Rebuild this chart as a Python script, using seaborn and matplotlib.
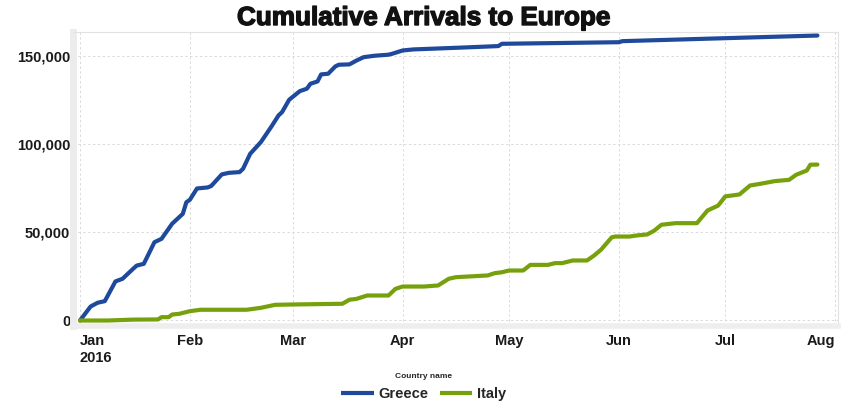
import matplotlib
matplotlib.use("Agg")
import matplotlib.pyplot as plt
import matplotlib.patheffects as pe
import matplotlib.ticker as mticker
import pandas as pd
import seaborn as sns

# Cumulative sea arrivals, 2016
greece_dates = [
    "2016-01-01", "2016-01-04", "2016-01-06", "2016-01-08", "2016-01-11",
    "2016-01-13", "2016-01-16", "2016-01-17", "2016-01-19", "2016-01-22",
    "2016-01-24", "2016-01-27", "2016-01-30", "2016-01-31", "2016-02-01",
    "2016-02-03", "2016-02-06", "2016-02-07", "2016-02-10", "2016-02-12",
    "2016-02-15", "2016-02-16", "2016-02-18", "2016-02-21", "2016-02-24",
    "2016-02-26", "2016-02-27", "2016-02-29", "2016-03-03", "2016-03-05",
    "2016-03-06", "2016-03-08", "2016-03-09", "2016-03-11", "2016-03-13",
    "2016-03-14", "2016-03-17", "2016-03-19", "2016-03-21", "2016-03-24",
    "2016-03-28", "2016-03-29", "2016-04-01", "2016-04-04", "2016-04-17",
    "2016-04-28", "2016-04-29", "2016-06-01", "2016-06-02", "2016-07-27",
]
greece_arrivals = [
    0, 7950, 10100, 11000, 22200,
    23700, 29400, 31200, 32200, 44500,
    46400, 55000, 60600, 67200, 68600,
    75000, 75600, 76400, 83000, 83900,
    84300, 86200, 94700, 101300, 110200,
    116500, 118400, 125400, 130300, 131700,
    134500, 135800, 139800, 140200, 144300,
    145300, 145500, 147700, 149600, 150400,
    151000, 151500, 153400, 154000, 155000,
    155900, 157200, 158100, 158700, 161900,
]

italy_dates = [
    "2016-01-01", "2016-01-09", "2016-01-16", "2016-01-23", "2016-01-24",
    "2016-01-26", "2016-01-27", "2016-01-29", "2016-02-01", "2016-02-04",
    "2016-02-17", "2016-02-21", "2016-02-25", "2016-03-01", "2016-03-15",
    "2016-03-17", "2016-03-19", "2016-03-22", "2016-03-28", "2016-03-30",
    "2016-04-01", "2016-04-07", "2016-04-11", "2016-04-14", "2016-04-16",
    "2016-04-25", "2016-04-27", "2016-04-29", "2016-05-01", "2016-05-05",
    "2016-05-07", "2016-05-12", "2016-05-14", "2016-05-16", "2016-05-19",
    "2016-05-23", "2016-05-25", "2016-05-27", "2016-05-30", "2016-05-31",
    "2016-06-04", "2016-06-06", "2016-06-09", "2016-06-11", "2016-06-13",
    "2016-06-17", "2016-06-23", "2016-06-26", "2016-06-29", "2016-07-01",
    "2016-07-05", "2016-07-08", "2016-07-11", "2016-07-15", "2016-07-19",
    "2016-07-21", "2016-07-24", "2016-07-25", "2016-07-27",
]
italy_arrivals = [
    0, 0, 500, 600, 1900,
    1900, 3400, 3800, 5300, 6100,
    6100, 7200, 8900, 9100, 9500,
    11800, 12300, 14200, 14200, 18000,
    19300, 19300, 19900, 23700, 24600,
    25600, 26900, 27400, 28400, 28400,
    31600, 31600, 32600, 32600, 34100,
    34100, 36900, 40300, 47300, 47700,
    47700, 48300, 48900, 51100, 54400,
    55300, 55300, 62500, 65300, 70500,
    71600, 76700, 77700, 79200, 79900,
    82800, 85200, 88500, 88600,
]

countries = ["Greece", "Italy"]
colors = ["#1f4a9c", "#77a10c"]

y_ticks = [0, 50000, 100000, 150000]
month_ticks = ["2016-01-01", "2016-02-01", "2016-03-01", "2016-04-01",
               "2016-05-01", "2016-06-01", "2016-07-01", "2016-08-01"]
month_labels = ["Jan\n2016", "Feb", "Mar", "Apr", "May", "Jun", "Jul", "Aug"]

df = pd.concat([
    pd.DataFrame({"date": pd.to_datetime(greece_dates),
                  "arrivals": greece_arrivals, "Country name": "Greece"}),
    pd.DataFrame({"date": pd.to_datetime(italy_dates),
                  "arrivals": italy_arrivals, "Country name": "Italy"}),
], ignore_index=True)

sns.set_theme(style="white")
plt.rcParams["font.family"] = ["Liberation Sans", "DejaVu Sans"]

W, H = 851, 405
fig = plt.figure(figsize=(W / 100, H / 100), dpi=100)
ax = fig.add_axes([73 / W, 1 - 326 / H, (838 - 73) / W, (326 - 32) / H])

sns.lineplot(data=df, x="date", y="arrivals", hue="Country name",
             hue_order=countries, palette=colors, linewidth=3.0,
             ax=ax, legend=True, solid_capstyle="round",
             solid_joinstyle="round")

# axis limits
ax.set_xlim(pd.Timestamp("2016-01-01") - pd.Timedelta(days=1.97),
            pd.Timestamp("2016-01-01") + pd.Timedelta(days=213.8))
ax.set_ylim(-3125, 163900)

# ticks and grid
ax.set_yticks(y_ticks)
ax.yaxis.set_major_formatter(mticker.FuncFormatter(lambda v, p: f"{int(v):,}"))
ax.set_xticks(pd.to_datetime(month_ticks))
ax.set_xticklabels(month_labels)
xl = ax.get_xticklabels()
for lbl in xl:
    lbl.set_ha("center")
xl[0].set_ha("left")
xl[-1].set_ha("right")
ax.tick_params(axis="both", length=0, labelsize=10.5, colors="#1a1a1a")
ax.tick_params(axis="y", pad=2)
ax.tick_params(axis="x", pad=6)
for lbl in ax.get_xticklabels() + ax.get_yticklabels():
    lbl.set_fontweight("bold")

ax.grid(True, which="major", axis="both", color="#dadada",
        linestyle=(0, (2.5, 2.5)), linewidth=0.7)
ax.set_axisbelow(True)

ax.set_xlabel("")
ax.set_ylabel("")

for side in ["top", "right"]:
    ax.spines[side].set_color("#e2e2e2")
    ax.spines[side].set_linewidth(0.8)
ax.spines["left"].set_color("#ececec")
ax.spines["left"].set_linewidth(5)
ax.spines["bottom"].set_color("#eeeeee")
ax.spines["bottom"].set_linewidth(4)

# legend below the plot
handles, labels = ax.get_legend_handles_labels()
ax.get_legend().remove()
leg = fig.legend(handles, labels, loc="upper center",
                 bbox_to_anchor=(424 / W, 1 - 373 / H), ncol=2,
                 frameon=False, title="Country name",
                 prop={"weight": "bold", "size": 10.5},
                 handlelength=2.2, handletextpad=0.35, columnspacing=0.8,
                 borderpad=0, borderaxespad=0)
leg.get_title().set_fontsize(6)
leg.get_title().set_fontweight("bold")
for h in leg.get_lines():
    h.set_linewidth(3.0)
    h.set_solid_capstyle("butt")

title = fig.text(424 / W, 1 - 25 / H, "Cumulative Arrivals to Europe",
                 ha="center", va="baseline", fontsize=18.8, fontweight="bold",
                 color="#111111")
title.set_path_effects([pe.withStroke(linewidth=1.0, foreground="#111111")])

fig.savefig("out.png", dpi=100)
